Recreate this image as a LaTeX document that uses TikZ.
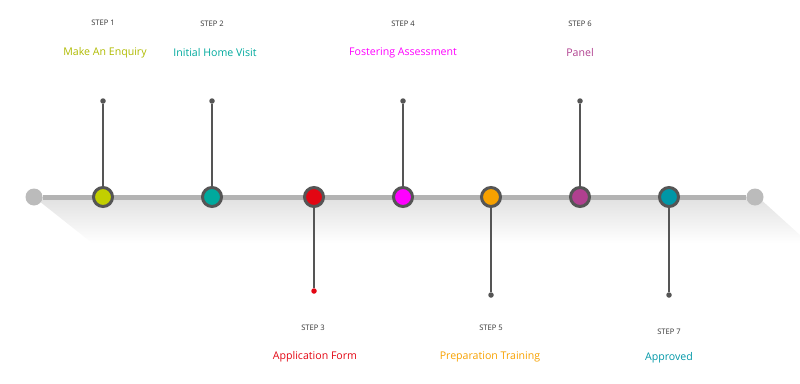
\documentclass[tikz,border=0pt]{standalone}
\usepackage{fontspec}
\setmainfont{Open Sans}
\usepackage{tikz}
\usetikzlibrary{calc}
\definecolor{railgray}{HTML}{B3B3B3}
\definecolor{endgray}{HTML}{BBBBBB}
\definecolor{rimgray}{HTML}{555555}
\definecolor{steplime}{HTML}{C2CF00}
\definecolor{stepteal}{HTML}{00A99D}
\definecolor{stepred}{HTML}{E30613}
\definecolor{stepmag}{HTML}{FF00FF}
\definecolor{steporange}{HTML}{F7A100}
\definecolor{stepplum}{HTML}{B0408F}
\definecolor{stepblue}{HTML}{0097A7}

\begin{document}
\begin{tikzpicture}[x=1pt,y=-1pt,
    stepdot/.style={circle,draw=rimgray,line width=3pt,minimum size=19pt,inner sep=0pt},
    enddot/.style={circle,fill=endgray,minimum size=17pt,inner sep=0pt},
    pin/.style={circle,fill=rimgray,minimum size=5.5pt,inner sep=0pt},
    stem/.style={rimgray,line width=1.2pt},
    steptag/.style={text=black!80,font=\fontsize{7.6}{9}\selectfont},
    steptitle/.style={font=\fontsize{10.6}{12}\selectfont}]
  \useasboundingbox (0,0) rectangle (800,383);
  % shadow under the rail
  \shade[top color=black!12,bottom color=white]
    (34,197) -- (92,243) -- (800,243) -- (800,235) -- (758,197) -- cycle;
  % rail and its ends
  \node[enddot] (left) at (34,197) {};
  \node[enddot] (right) at (755,197) {};
  \draw[railgray,line width=5pt] (left) -- (right);
  % pins above
  \node[pin] (p1) at (103,101) {};
  \node[pin] (p2) at (212,101) {};
  \node[pin] (p4) at (403,101) {};
  \node[pin] (p6) at (580,101) {};
  % pins below
  \node[pin,fill=stepred] (p3) at (314,291) {};
  \node[pin] (p5) at (491,295) {};
  \node[pin] (p7) at (669,295) {};
  \draw[stem] (p1) -- (103,197);
  \draw[stem] (p2) -- (212,197);
  \draw[stem] (p4) -- (403,197);
  \draw[stem] (p6) -- (580,197);
  \draw[stem] (p3) -- (314,197);
  \draw[stem] (p5) -- (491,197);
  \draw[stem] (p7) -- (669,197);
  % steps on the rail
  \node[stepdot,fill=steplime] (s1) at (103,197) {};
  \node[stepdot,fill=stepteal] (s2) at (212,197) {};
  \node[stepdot,fill=stepred] (s3) at (314,197) {};
  \node[stepdot,fill=stepmag] (s4) at (403,197) {};
  \node[stepdot,fill=steporange] (s5) at (491,197) {};
  \node[stepdot,fill=stepplum] (s6) at (580,197) {};
  \node[stepdot,fill=stepblue] (s7) at (669,197) {};
  % labels
  \node[steptag] (tag1) at (103,23) {STEP 1};
  \node[steptitle,text=steplime!90!black] (title1) at (105,53) {Make An Enquiry};
  \node[steptag] (tag2) at (212,24) {STEP 2};
  \node[steptitle,text=stepteal] (title2) at (215,53) {Initial Home Visit};
  \node[steptag] (tag3) at (313,328) {STEP 3};
  \node[steptitle,text=stepred] (title3) at (315,357) {Application Form};
  \node[steptag] (tag4) at (403,24) {STEP 4};
  \node[steptitle,text=stepmag] (title4) at (403,53) {Fostering Assessment};
  \node[steptag] (tag5) at (491,328) {STEP 5};
  \node[steptitle,text=steporange] (title5) at (490,357) {Preparation Training};
  \node[steptag] (tag6) at (580,24) {STEP 6};
  \node[steptitle,text=stepplum] (title6) at (580,53) {Panel};
  \node[steptag] (tag7) at (669,332) {STEP 7};
  \node[steptitle,text=stepblue] (title7) at (669,358) {Approved};
\end{tikzpicture}
\end{document}
